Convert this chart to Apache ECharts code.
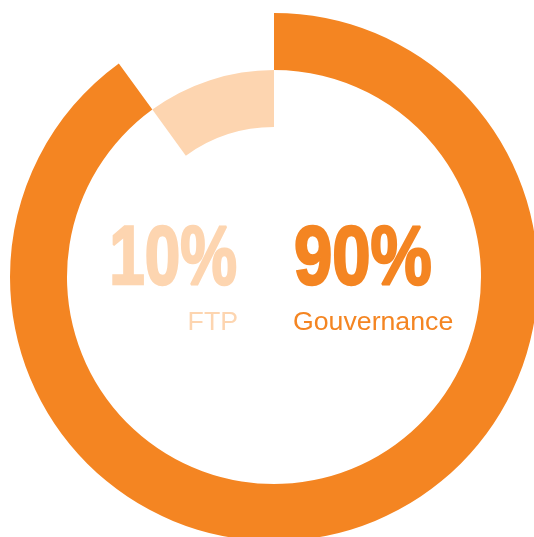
<!DOCTYPE html>
<html>
<head>
<meta charset="utf-8">
<script src="https://cdn.jsdelivr.net/npm/echarts@6/dist/echarts.min.js"></script>
<style>
html,body{margin:0;padding:0;background:#fff;}
#chart{width:534px;height:537px;}
</style>
</head>
<body>
<div id="chart"></div>
<script>
var categories = ['FTP', 'Gouvernance'];
var values = [10, 90];
var colors = ['#FDD5B0', '#F48522'];

var chart = echarts.init(document.getElementById('chart'), null, {renderer: 'canvas'});
var total = values[0] + values[1];
var none = {color: 'rgba(0,0,0,0)'};
var bigFont = 'bold 84px "Liberation Sans", Arial, Helvetica, sans-serif';
var smallFont = '400 26.7px "Liberation Sans", Arial, Helvetica, sans-serif';

chart.setOption({
  backgroundColor: '#ffffff',
  animation: false,
  series: [
    {
      type: 'pie',
      center: [274, 277],
      radius: [207, 264],
      startAngle: 90,
      clockwise: true,
      silent: true,
      label: {show: false},
      labelLine: {show: false},
      emphasis: {disabled: true},
      data: [
        {name: categories[1], value: values[1], itemStyle: {color: colors[1]}},
        {name: 'rest', value: total - values[1], itemStyle: none}
      ]
    },
    {
      type: 'pie',
      center: [274, 277],
      radius: [150, 207],
      startAngle: 90,
      clockwise: true,
      silent: true,
      label: {show: false},
      labelLine: {show: false},
      emphasis: {disabled: true},
      data: [
        {name: 'rest', value: total - values[0], itemStyle: none},
        {name: categories[0], value: values[0], itemStyle: {color: colors[0]}}
      ]
    }
  ],
  graphic: [
    {type: 'text', x: 237, y: 261, scaleX: 0.76, style: {text: values[0] + '%', font: bigFont, fill: colors[0], stroke: colors[0], lineWidth: 2.5, textAlign: 'right', textVerticalAlign: 'middle'}},
    {type: 'text', x: 294, y: 261, scaleX: 0.82, style: {text: values[1] + '%', font: bigFont, fill: colors[1], stroke: colors[1], lineWidth: 2.5, textAlign: 'left', textVerticalAlign: 'middle'}},
    {type: 'text', x: 238, y: 323, style: {text: categories[0], font: smallFont, fill: colors[0], textAlign: 'right', textVerticalAlign: 'middle'}},
    {type: 'text', x: 293, y: 323, style: {text: categories[1], font: smallFont, fill: colors[1], textAlign: 'left', textVerticalAlign: 'middle'}}
  ]
});
</script>
</body>
</html>
